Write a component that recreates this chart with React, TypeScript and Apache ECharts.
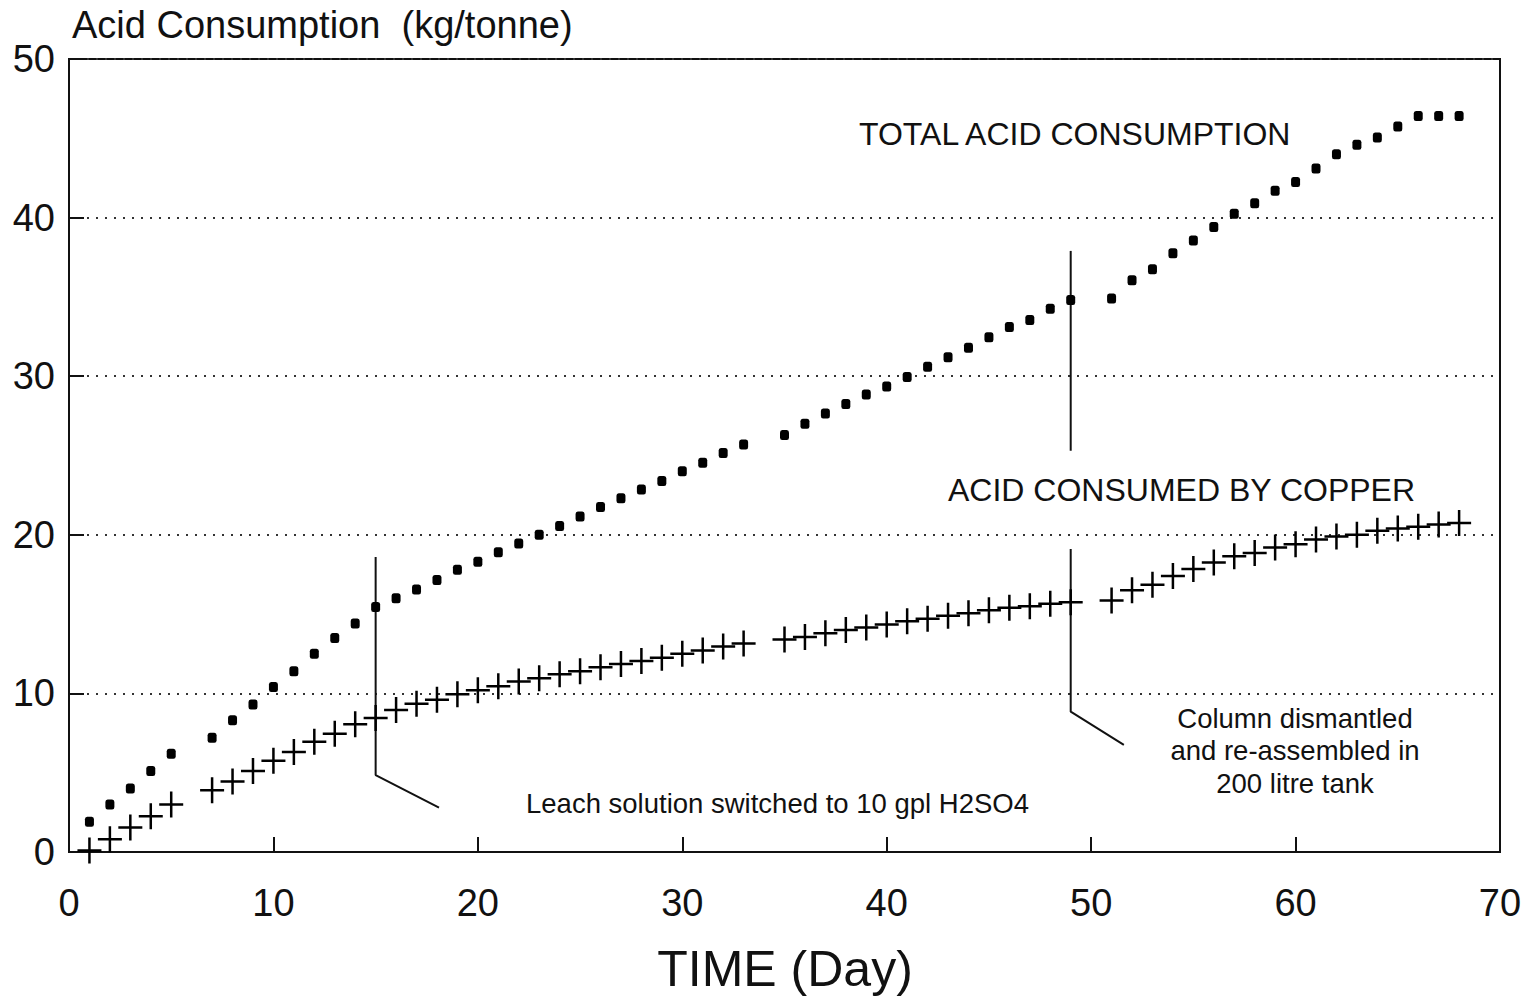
import React, { useEffect, useRef } from "react";
import * as echarts from "echarts";

// Days on which measurements exist (days 6, 34 and 50 were skipped)
const days: number[] = [
  1, 2, 3, 4, 5, 7, 8, 9, 10, 11, 12, 13, 14, 15, 16, 17, 18, 19, 20, 21, 22, 23, 24, 25, 26, 27, 28,
  29, 30, 31, 32, 33, 35, 36, 37, 38, 39, 40, 41, 42, 43, 44, 45, 46, 47, 48, 49, 51, 52, 53, 54, 55,
  56, 57, 58, 59, 60, 61, 62, 63, 64, 65, 66, 67, 68,
];

// Total acid consumption (kg/tonne)
const totalAcid: number[] = [
  1.9, 3.0, 4.0, 5.1, 6.2, 7.2, 8.3, 9.3, 10.4, 11.4, 12.5, 13.5, 14.4, 15.45, 16.0, 16.55, 17.15,
  17.8, 18.3, 18.9, 19.45, 20.0, 20.55, 21.15, 21.75, 22.3, 22.85, 23.4, 24.0, 24.55, 25.15, 25.7,
  26.3, 27.0, 27.65, 28.25, 28.85, 29.35, 29.95, 30.6, 31.2, 31.8, 32.45, 33.1, 33.55, 34.25, 34.8,
  34.9, 36.05, 36.75, 37.75, 38.55, 39.4, 40.25, 40.9, 41.7, 42.25, 43.1, 44.0, 44.6, 45.05, 45.75,
  46.4, 46.4, 46.4,
];

// Acid consumed by copper (kg/tonne)
const copperAcid: number[] = [
  0.1, 0.8, 1.55, 2.25, 3.0, 3.9, 4.45, 5.1, 5.75, 6.3, 6.95, 7.45, 8.05, 8.45, 8.95, 9.35, 9.6,
  9.95, 10.2, 10.45, 10.75, 10.95, 11.2, 11.4, 11.65, 11.85, 12.05, 12.25, 12.5, 12.7, 12.95, 13.15,
  13.4, 13.55, 13.8, 14.0, 14.15, 14.35, 14.55, 14.7, 14.9, 15.05, 15.25, 15.4, 15.5, 15.65, 15.75,
  15.85, 16.5, 16.85, 17.4, 17.85, 18.25, 18.65, 18.85, 19.2, 19.4, 19.7, 19.9, 20.0, 20.25, 20.4,
  20.5, 20.65, 20.75,
];

// Annotation leader lines (day, kg/tonne)
const leachLeader: number[][] = [
  [15, 18.6],
  [15, 4.85],
  [18.1, 2.8],
];
const dismantleUpper: number[][] = [
  [49, 37.9],
  [49, 25.3],
];
const dismantleLower: number[][] = [
  [49, 19.1],
  [49, 8.85],
  [51.6, 6.75],
];

const xTicks = { min: 0, max: 70, interval: 10 };
const yTicks = { min: 0, max: 50, interval: 10 };

const FONT = "'Liberation Sans', Arial, Helvetica, sans-serif";
const CROSS = "path://M10.75,0 h2.5 v26 h-2.5 Z M0,11.75 h24 v2.5 h-24 Z";

export default function App() {
  const ref = useRef<HTMLDivElement>(null);

  useEffect(() => {
    if (!ref.current) return;
    const chart = echarts.init(ref.current, undefined, { renderer: "svg" });

    const totalData = days.map((d, i) => [d, totalAcid[i]]);
    const copperData = days.map((d, i) => [d, copperAcid[i]]);

    const leader = (data: number[][]) => ({
      type: "line",
      data,
      showSymbol: false,
      symbol: "none",
      silent: true,
      lineStyle: { color: "#111", width: 2 },
      z: 1,
    });

    chart.setOption({
      animation: false,
      backgroundColor: "#ffffff",
      grid: {
        left: 69,
        right: 33,
        top: 59,
        bottom: 150,
        show: true,
        borderColor: "#111",
        borderWidth: 2,
        backgroundColor: "transparent",
      },
      xAxis: {
        type: "value",
        min: xTicks.min,
        max: xTicks.max,
        interval: xTicks.interval,
        axisLine: { show: true, lineStyle: { color: "#111", width: 2 } },
        axisTick: { show: true, inside: true, length: 15, lineStyle: { color: "#111", width: 2 } },
        axisLabel: { color: "#111", fontSize: 38, fontFamily: FONT, margin: 32 },
        splitLine: { show: false },
      },
      yAxis: {
        type: "value",
        min: yTicks.min,
        max: yTicks.max,
        interval: yTicks.interval,
        axisLine: { show: true, lineStyle: { color: "#111", width: 2 } },
        axisTick: { show: true, inside: true, length: 15, lineStyle: { color: "#111", width: 2 } },
        axisLabel: { color: "#111", fontSize: 38, fontFamily: FONT, margin: 14 },
        splitLine: {
          show: true,
          lineStyle: { color: "#333", width: 2, type: [2, 7] },
        },
      },
      series: [
        {
          name: "TOTAL ACID CONSUMPTION",
          type: "scatter",
          data: totalData,
          symbol: "roundRect",
          symbolSize: [9, 10],
          itemStyle: { color: "#000", opacity: 1 },
          z: 3,
        },
        {
          name: "ACID CONSUMED BY COPPER",
          type: "scatter",
          data: copperData,
          symbol: CROSS,
          symbolSize: [24, 26],
          itemStyle: { color: "#000", opacity: 1 },
          z: 3,
        },
        leader(leachLeader),
        leader(dismantleUpper),
        leader(dismantleLower),
      ],
      graphic: [
        {
          type: "text",
          left: 72,
          top: 6,
          style: { text: "Acid Consumption  (kg/tonne)", fontSize: 38, fontFamily: FONT, fill: "#111" },
        },
        {
          type: "text",
          left: 859,
          top: 118,
          style: { text: "TOTAL ACID CONSUMPTION", fontSize: 32, fontFamily: FONT, fill: "#111" },
        },
        {
          type: "text",
          left: 948,
          top: 474,
          style: { text: "ACID CONSUMED BY COPPER", fontSize: 32, fontFamily: FONT, fill: "#111" },
        },
        {
          type: "text",
          left: 526,
          top: 789,
          style: { text: "Leach solution switched to 10 gpl H2SO4", fontSize: 27.5, fontFamily: FONT, fill: "#111" },
        },
        {
          type: "text",
          x: 1295,
          y: 702,
          style: {
            text: "Column dismantled\nand re-assembled in\n200 litre tank",
            fontSize: 27.5,
            lineHeight: 32.5,
            fontFamily: FONT,
            fill: "#111",
            align: "center",
          },
        },
        {
          type: "text",
          x: 785,
          y: 944,
          style: { text: "TIME (Day)", fontSize: 50, fontFamily: FONT, fill: "#111", align: "center" },
        },
      ],
    });

    return () => chart.dispose();
  }, []);

  return (
    <div
      ref={ref}
      style={{ position: "absolute", left: 0, top: 0, width: 1533, height: 1002, background: "#fff" }}
    />
  );
}
